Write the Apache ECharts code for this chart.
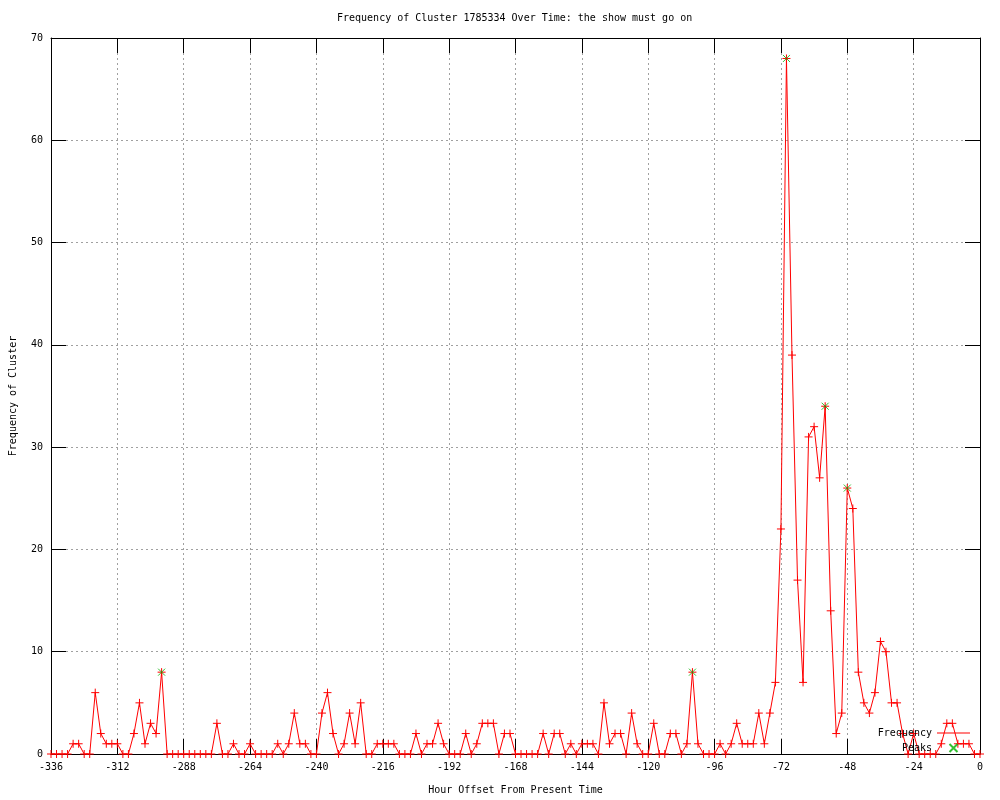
<!DOCTYPE html>
<html>
<head>
<meta charset="utf-8">
<script src="https://cdn.jsdelivr.net/npm/echarts@6/dist/echarts.min.js"></script>
<style>html,body{margin:0;padding:0;background:#fff;}#c{width:1000px;height:800px;}</style>
</head>
<body>
<div id="c"></div>
<script>
const hours = Array.from({length: 169}, (_, i) => -336 + 2 * i);
const frequency = [
  0,0,0,0,1,1,0,0,6,2, 1,1,1,0,0,2,5,1,3,2,
  8,0,0,0,0,0,0,0,0,0, 3,0,0,1,0,0,1,0,0,0,
  0,1,0,1,4,1,1,0,0,4, 6,2,0,1,4,1,5,0,0,1,
  1,1,1,0,0,0,2,0,1,1, 3,1,0,0,0,2,0,1,3,3,
  3,0,2,2,0,0,0,0,0,2, 0,2,2,0,1,0,1,1,1,0,
  5,1,2,2,0,4,1,0,0,3, 0,0,2,2,0,1,8,1,0,0,
  0,1,0,1,3,1,1,1,4,1, 4,7,22,68,39,17,7,31,32,27,
  34,14,2,4,26,24,8,5,4,6, 11,10,5,5,2,0,2,0,0,0,
  0,1,3,3,1,1,1,0,0
];
const peakHours = [-296, -104, -70, -56, -48];
const peakValues = [8, 8, 68, 34, 26];
const xTickInterval = 24;
const yTickInterval = 10;

const FONT = 'DejaVu Sans Mono';
const plus = 'path://M0,4H8M4,0V8';
const cross = 'path://M0,0L8,8M8,0L0,8';

const chart = echarts.init(document.getElementById('c'), null, {renderer: 'canvas'});
const axisCommon = {
  axisLine: {show: true, onZero: false, lineStyle: {color: '#000', width: 1}},
  axisTick: {show: true, inside: true, length: 15, lineStyle: {color: '#000', width: 1}},
};
chart.setOption({
  animation: false,
  backgroundColor: '#fff',
  title: {
    text: 'Frequency of Cluster 1785334 Over Time: the show must go on',
    left: 337, top: 13, padding: 0,
    textStyle: {fontFamily: FONT, fontSize: 10, fontWeight: 'normal', color: '#000'}
  },
  grid: {left: 50, right: 20, top: 38, bottom: 40},
  legend: {
    data: [
      {name: 'Frequency', icon: 'path://M0,0H33V1H0Z', itemStyle: {borderWidth: 0}},
      {name: 'Peaks', icon: cross}
    ],
    orient: 'vertical', align: 'right', right: 30, top: 728,
    itemWidth: 33, itemHeight: 8, itemGap: 5, padding: 0,
    symbolKeepAspect: true,
    textStyle: {fontFamily: FONT, fontSize: 10, color: '#000'}
  },
  xAxis: [
    Object.assign({
      type: 'value', min: -336, max: 0, interval: xTickInterval, position: 'bottom',
      axisLabel: {color: '#000', fontFamily: FONT, fontSize: 10, margin: 8},
      splitLine: {show: true, lineStyle: {color: '#a0a0a0', type: [2, 3], width: 1}},
      name: 'Hour Offset From Present Time', nameLocation: 'middle', nameGap: 31,
      nameTextStyle: {color: '#000', fontFamily: FONT, fontSize: 10}
    }, axisCommon),
    Object.assign({
      type: 'value', min: -336, max: 0, interval: xTickInterval, position: 'top',
      axisLabel: {show: false}, splitLine: {show: false}
    }, axisCommon)
  ],
  yAxis: [
    Object.assign({
      type: 'value', min: 0, max: 70, interval: yTickInterval, position: 'left',
      axisLabel: {color: '#000', fontFamily: FONT, fontSize: 10, margin: 8},
      splitLine: {show: true, lineStyle: {color: '#a0a0a0', type: [2, 3], width: 1}},
      name: 'Frequency of Cluster', nameLocation: 'middle', nameGap: 33,
      nameTextStyle: {color: '#000', fontFamily: FONT, fontSize: 10}
    }, axisCommon),
    Object.assign({
      type: 'value', min: 0, max: 70, interval: yTickInterval, position: 'right',
      axisLabel: {show: false}, splitLine: {show: false}
    }, axisCommon)
  ],
  series: [
    {
      name: 'Frequency', type: 'line', xAxisIndex: 0, yAxisIndex: 0,
      data: hours.map((h, i) => [h, frequency[i]]),
      symbol: plus, symbolSize: 8, showSymbol: true, clip: false,
      lineStyle: {color: '#ff0000', width: 1},
      itemStyle: {color: '#ff0000', borderColor: '#ff0000', borderWidth: 1},
      emphasis: {disabled: true}, silent: true, z: 3
    },
    {
      name: 'Peaks', type: 'scatter', xAxisIndex: 0, yAxisIndex: 0,
      data: peakHours.map((h, i) => [h, peakValues[i]]),
      symbol: cross, symbolSize: 7, clip: false,
      itemStyle: {color: '#00b000', borderColor: '#00b000', borderWidth: 1},
      emphasis: {disabled: true}, silent: true, z: 4
    }
  ]
});
</script>
</body>
</html>
